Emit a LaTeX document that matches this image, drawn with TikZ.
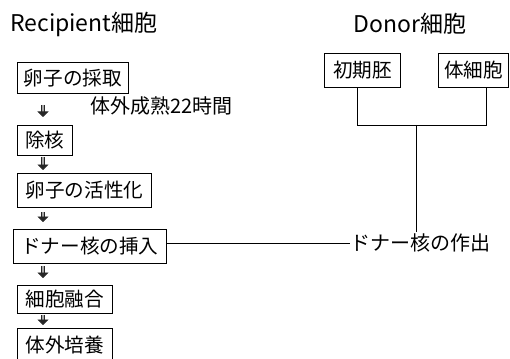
\documentclass[tikz,border=0pt]{standalone}
\usepackage{fontspec}
\setmainfont{Noto Sans CJK JP}
\usetikzlibrary{arrows.meta}
\begin{document}
\begin{tikzpicture}[x=1pt,y=-1pt,
  ttl/.style={inner sep=0pt, font=\fontsize{23}{26}\selectfont},
  txt/.style={inner sep=0pt, font=\fontsize{20}{24}\selectfont},
  box/.style={draw, line width=0.8pt, inner sep=0pt, anchor=north west, font=\fontsize{19.6}{24}\selectfont},
  flowarr/.style={line width=0.8pt, draw=black!85, double=black!35, double distance=2.6pt, -{Triangle[length=5.5pt,width=11pt,fill=black!85]}},
  conn/.style={line width=0.8pt}]
\useasboundingbox (0,0) rectangle (510,358);
% titles
\node[ttl, anchor=west] (tr) at (10,24) {Recipient細胞};
\node[ttl] (td) at (410,24) {Donor細胞};
% recipient boxes
\node[box, minimum width=111pt, minimum height=31pt] (b1) at (17,62) {卵子の採取};
\node[box, minimum width=55pt, minimum height=30pt] (b2) at (17,125) {除核};
\node[box, minimum width=134pt, minimum height=34pt] (b3) at (17,173) {卵子の活性化};
\node[box, minimum width=153pt, minimum height=34pt] (b4) at (13,229) {ドナー核の挿入};
\node[box, minimum width=95pt, minimum height=28pt] (b5) at (17,285) {細胞融合};
\node[box, minimum width=95pt, minimum height=34pt] (b6) at (17,328) {体外培養};
\node[txt, anchor=west] (mat) at (90,106) {体外成熟22時間};
% donor boxes
\node[box, minimum width=76pt, minimum height=34pt] (e1) at (324,53) {初期胚};
\node[box, minimum width=70pt, minimum height=34pt] (e2) at (438,53) {体細胞};
\node[txt, anchor=west] (dn) at (350,243) {ドナー核の作出};
% arrows
\coordinate (ax) at (43,0);
\draw[flowarr, shorten <=11pt, shorten >=8pt] (b1.south -| ax) -- (b2.north -| ax);
\draw[flowarr, shorten <=1pt, shorten >=3pt] (b2.south -| ax) -- (b3.north -| ax);
\draw[flowarr, shorten <=4pt, shorten >=7pt] (b3.south -| ax) -- (b4.north -| ax);
\draw[flowarr, shorten <=2pt, shorten >=7pt] (b4.south -| ax) -- (b5.north -| ax);
\draw[flowarr, shorten <=1pt, shorten >=3pt] (b5.south -| ax) -- (b6.north -| ax);
% donor connectors
\coordinate (l1) at (357,125);
\coordinate (l2) at (486,125);
\coordinate (jn) at (416,125);
\draw[conn] (e1.south -| l1) -- (l1) -- (l2) -- (e2.south -| l2);
\draw[conn, shorten >=2pt] (jn) -- (dn.north -| jn);
\draw[conn] (b4.east |- dn.west) -- (dn.west);
\end{tikzpicture}
\end{document}
